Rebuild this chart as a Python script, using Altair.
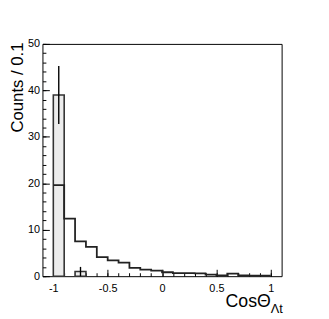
import altair as alt
import pandas as pd

# ---- data ----
bin_lo = [-1.0, -0.9, -0.8, -0.7, -0.6, -0.5, -0.4, -0.3, -0.2, -0.1,
          0.0, 0.1, 0.2, 0.3, 0.4, 0.5, 0.6, 0.7, 0.8, 0.9]
bin_hi = [-0.9, -0.8, -0.7, -0.6, -0.5, -0.4, -0.3, -0.2, -0.1, 0.0,
          0.1, 0.2, 0.3, 0.4, 0.5, 0.6, 0.7, 0.8, 0.9, 1.0]
mc_counts = [19.6, 12.4, 7.5, 6.3, 4.1, 3.4, 2.9, 1.8, 1.4, 1.2,
             0.85, 0.65, 0.65, 0.6, 0.35, 0.2, 0.55, 0.15, 0.1, 0.1]

data_lo = [-1.0, -0.8]
data_hi = [-0.9, -0.7]
data_counts = [39, 1]
data_center = [-0.95, -0.75]
data_err = [6.24, 1.0]

x_major = [-1, -0.5, 0, 0.5, 1]
x_minor = [-1.0, -0.9, -0.8, -0.7, -0.6, -0.5, -0.4, -0.3, -0.2, -0.1, 0.0,
           0.1, 0.2, 0.3, 0.4, 0.5, 0.6, 0.7, 0.8, 0.9, 1.0]
y_major = [0, 10, 20, 30, 40, 50]
y_minor = [0, 2, 4, 6, 8, 10, 12, 14, 16, 18, 20, 22, 24, 26, 28, 30,
           32, 34, 36, 38, 40, 42, 44, 46, 48, 50]

FONT = "Liberation Sans"

# ---- tables ----
df_data = pd.DataFrame({"lo": data_lo, "hi": data_hi, "n": data_counts})
df_err = pd.DataFrame({
    "x": data_center,
    "elo": [c - e for c, e in zip(data_counts, data_err)],
    "ehi": [c + e for c, e in zip(data_counts, data_err)],
})
df_mc = pd.DataFrame({"edge": bin_lo + [bin_hi[-1]],
                      "v": mc_counts + [mc_counts[-1]]})

xs = alt.Scale(domain=[-1.1, 1.1], nice=False, zero=False)
ys = alt.Scale(domain=[0, 50], nice=False, zero=False)

# axis that carries only labels
x_lab_axis = alt.Axis(orient="bottom", values=x_major, ticks=False, domain=False,
                      grid=False, title=None, labelFont=FONT, labelFontSize=11,
                      labelColor="black", labelPadding=7, labelFlush=False,
                      labelOverlap=False, labelExpr="'' + datum.value")
y_lab_axis = alt.Axis(orient="left", values=y_major, ticks=False, domain=False,
                      grid=False, title=None, labelFont=FONT, labelFontSize=11,
                      labelColor="black", labelPadding=3, labelFlush=False,
                      labelOverlap=False)
# inward major ticks
x_maj_axis = alt.Axis(orient="bottom", values=x_major, labels=False, domain=False,
                      grid=False, title=None, tickSize=7, offset=-7,
                      tickColor="black", tickWidth=1)
y_maj_axis = alt.Axis(orient="left", values=y_major, labels=False, domain=False,
                      grid=False, title=None, tickSize=7, offset=-7,
                      tickColor="black", tickWidth=1)
# inward minor ticks
x_min_axis = alt.Axis(orient="bottom", values=x_minor, labels=False, domain=False,
                      grid=False, title=None, tickSize=3.5, offset=-3.5,
                      tickColor="black", tickWidth=1)
y_min_axis = alt.Axis(orient="left", values=y_minor, labels=False, domain=False,
                      grid=False, title=None, tickSize=3.5, offset=-3.5,
                      tickColor="black", tickWidth=1)

bars = alt.Chart(df_data).mark_rect(fill="#ececec", stroke="#333333",
                                    strokeWidth=1.6).encode(
    x=alt.X("lo:Q", scale=xs, axis=x_lab_axis),
    x2="hi:Q",
    y=alt.Y("n:Q", scale=ys, axis=y_lab_axis),
    y2=alt.datum(0),
)

mc_line = alt.Chart(df_mc).mark_line(interpolate="step-after", color="#222222",
                                     strokeWidth=1.8).encode(
    x=alt.X("edge:Q", scale=xs, axis=x_maj_axis),
    y=alt.Y("v:Q", scale=ys, axis=y_maj_axis),
)

err = alt.Chart(df_err).mark_rule(color="black", strokeWidth=1.4).encode(
    x=alt.X("x:Q", scale=xs, axis=x_min_axis),
    y=alt.Y("elo:Q", scale=ys, axis=y_min_axis),
    y2="ehi:Q",
)

title_df = pd.DataFrame({"t": ["Counts / 0.1"]})
y_title = alt.Chart(title_df).mark_text(
    angle=270, align="right", baseline="alphabetic", font=FONT, fontSize=17,
    color="black").encode(text="t:N", x=alt.value(-19.5), y=alt.value(-1.5))

xt_df = pd.DataFrame({"t": ["CosΘ"]})
x_title = alt.Chart(xt_df).mark_text(
    align="right", baseline="alphabetic", font=FONT, fontSize=18,
    color="black").encode(text="t:N", x=alt.value(232), y=alt.value(267))

xs_df = pd.DataFrame({"t": ["Λt"]})
x_sub = alt.Chart(xs_df).mark_text(
    align="left", baseline="alphabetic", font=FONT, fontSize=13,
    color="black").encode(text="t:N", x=alt.value(232), y=alt.value(273.5))

chart = alt.layer(bars, mc_line, err, y_title, x_title, x_sub).resolve_scale(
    x="shared", y="shared"
).resolve_axis(
    x="independent", y="independent"
).properties(
    width=243, height=236,
    autosize=alt.AutoSizeParams(type="none"),
    padding={"left": 35, "top": 34, "right": 40, "bottom": 40},
    background="white",
).configure_view(stroke="black", strokeWidth=1)

chart.save("out.html", embed_options={"renderer": "svg", "actions": False})
